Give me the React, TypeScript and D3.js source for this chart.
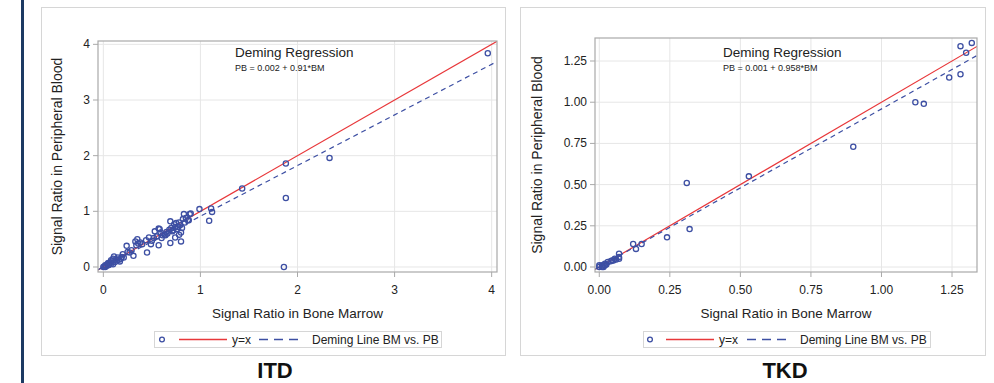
import React from "react";
import * as d3 from "d3";

const itdBM = [0.00,0.01,0.02,0.02,0.03,0.04,0.05,0.05,0.06,0.07,0.08,0.08,0.09,0.10,0.10,0.11,0.12,0.13,0.14,0.15,0.16,0.17,0.18,0.19,0.20,0.21,0.24,0.25,0.27,0.29,0.31,0.33,0.34,0.35,0.36,0.38,0.40,0.44,0.45,0.47,0.49,0.50,0.52,0.53,0.55,0.57,0.57,0.58,0.59,0.60,0.61,0.63,0.64,0.65,0.66,0.68,0.69,0.69,0.70,0.71,0.72,0.73,0.74,0.74,0.75,0.76,0.77,0.78,0.78,0.79,0.80,0.80,0.81,0.82,0.83,0.84,0.85,0.87,0.88,0.89,0.90,0.99,1.09,1.11,1.12,1.43,1.86,1.88,1.88,2.33,3.96];
const itdPB = [0.00,0.01,0.00,0.03,0.02,0.05,0.03,0.07,0.04,0.08,0.06,0.12,0.10,0.05,0.15,0.19,0.09,0.14,0.12,0.17,0.13,0.10,0.15,0.18,0.23,0.17,0.38,0.27,0.26,0.30,0.20,0.46,0.39,0.50,0.42,0.44,0.41,0.48,0.26,0.53,0.41,0.47,0.52,0.64,0.55,0.39,0.69,0.68,0.62,0.52,0.57,0.58,0.57,0.63,0.60,0.67,0.43,0.82,0.70,0.64,0.66,0.77,0.53,0.72,0.79,0.68,0.72,0.58,0.80,0.75,0.46,0.62,0.70,0.86,0.95,0.80,0.88,0.84,0.84,0.95,0.96,1.04,0.83,1.05,0.99,1.41,0.00,1.86,1.24,1.96,3.84];

const tkdBM = [0.000,0.000,0.010,0.010,0.012,0.015,0.020,0.020,0.025,0.030,0.040,0.045,0.050,0.055,0.060,0.070,0.070,0.070,0.120,0.130,0.150,0.240,0.310,0.320,0.530,0.900,1.120,1.150,1.240,1.280,1.280,1.300,1.320];
const tkdPB = [0.000,0.010,0.000,0.010,0.005,0.000,0.010,0.020,0.015,0.030,0.035,0.040,0.040,0.050,0.045,0.050,0.060,0.080,0.140,0.110,0.140,0.180,0.510,0.230,0.550,0.730,1.000,0.990,1.150,1.170,1.340,1.300,1.360];

const itdXTicks = [0, 1, 2, 3, 4];
const itdYTicks = [0, 1, 2, 3, 4];
const tkdXTicks = [0, 0.25, 0.5, 0.75, 1.0, 1.25];
const tkdYTicks = [0, 0.25, 0.5, 0.75, 1.0, 1.25];

const itdIntercept = 0.002, itdSlope = 0.91;
const tkdIntercept = 0.001, tkdSlope = 0.958;

const FONT = "'Liberation Sans', Arial, sans-serif";
const RED = "#e8373a";
const BLUE = "#3d4fa3";

type PanelProps = {
  id: string;
  box: [number, number, number, number];
  frame: [number, number, number, number];
  xDomain: [number, number];
  yDomain: [number, number];
  bm: number[];
  pb: number[];
  xTicks: number[];
  yTicks: number[];
  fmt: (v: number) => string;
  intercept: number;
  slope: number;
  eqText: string;
  eqX: number;
  yTitleX: number;
  legend: { x0: number; x1: number; marker: number; r0: number; r1: number; t1: number; b0: number; b1: number; t2: number };
  title: string;
  titleX: number;
};

function Panel(p: PanelProps) {
  const [fl, ft, fr, fb] = p.frame;
  const x = d3.scaleLinear().domain(p.xDomain).range([fl, fr]);
  const y = d3.scaleLinear().domain(p.yDomain).range([fb, ft]);
  const xs = [p.xDomain[0], p.xDomain[1]];
  const idLine = d3.line<number>().x((v) => x(v)).y((v) => y(v))(xs) as string;
  const demLine = d3.line<number>().x((v) => x(v)).y((v) => y(p.intercept + p.slope * v))(xs) as string;
  const [bx0, by0, bx1, by1] = p.box;
  const lg = p.legend;
  const cx = (fl + fr) / 2;
  return (
    <g>
      <rect x={bx0 + 0.5} y={by0 + 0.5} width={bx1 - bx0} height={by1 - by0} fill="#fff" stroke="#d6d6d6" />
      <defs>
        <clipPath id={p.id}>
          <rect x={fl} y={ft} width={fr - fl} height={fb - ft} />
        </clipPath>
      </defs>
      {p.xTicks.map((t) => (
        <line key={"gx" + t} x1={x(t)} x2={x(t)} y1={ft} y2={fb} stroke="#e6e6e6" />
      ))}
      {p.yTicks.map((t) => (
        <line key={"gy" + t} x1={fl} x2={fr} y1={y(t)} y2={y(t)} stroke="#e6e6e6" />
      ))}
      <g clipPath={`url(#${p.id})`}>
        <path d={idLine} stroke={RED} strokeWidth={1.2} fill="none" />
        <path d={demLine} stroke={BLUE} strokeWidth={1.2} strokeDasharray="5,4" fill="none" />
        {p.bm.map((v, i) => (
          <circle key={i} cx={x(v)} cy={y(p.pb[i])} r={2.6} fill="none" stroke={BLUE} strokeWidth={1.3} />
        ))}
      </g>
      <rect x={fl} y={ft} width={fr - fl} height={fb - ft} fill="none" stroke="#a9a9a9" strokeWidth={1.2} />
      {p.xTicks.map((t) => (
        <g key={"tx" + t}>
          <line x1={x(t)} x2={x(t)} y1={fb} y2={fb + 5} stroke="#a9a9a9" />
          <text x={x(t)} y={294} textAnchor="middle" fontSize={12} fontFamily={FONT} fill="#222">{p.fmt(t)}</text>
        </g>
      ))}
      {p.yTicks.map((t) => (
        <g key={"ty" + t}>
          <line x1={fl - 5} x2={fl} y1={y(t)} y2={y(t)} stroke="#a9a9a9" />
          <text x={fl - 8} y={y(t) + 4} textAnchor="end" fontSize={12} fontFamily={FONT} fill="#222">{p.fmt(t)}</text>
        </g>
      ))}
      <text x={cx} y={318} textAnchor="middle" fontSize={13.5} fontFamily={FONT} fill="#222">Signal Ratio in Bone Marrow</text>
      <text transform={`translate(${p.yTitleX},${(ft + fb) / 2}) rotate(-90)`} textAnchor="middle" fontSize={14} fontFamily={FONT} fill="#222">Signal Ratio in Peripheral Blood</text>
      <text x={p.eqX} y={57} fontSize={13.5} fontFamily={FONT} fill="#222">Deming Regression</text>
      <text x={p.eqX} y={71} fontSize={9} fontFamily={FONT} fill="#222">{p.eqText}</text>
      <rect x={lg.x0 + 0.5} y={331.5} width={lg.x1 - lg.x0} height={16} fill="#fff" stroke="#d6d6d6" />
      <circle cx={lg.marker} cy={339.5} r={2.4} fill="none" stroke={BLUE} strokeWidth={1.3} />
      <line x1={lg.r0} x2={lg.r1} y1={339.5} y2={339.5} stroke={RED} strokeWidth={1.3} />
      <text x={lg.t1} y={343.5} fontSize={12} fontFamily={FONT} fill="#222">y=x</text>
      <line x1={lg.b0} x2={lg.b1} y1={339.5} y2={339.5} stroke={BLUE} strokeWidth={1.3} strokeDasharray="9,6" />
      <text x={lg.t2} y={343.5} fontSize={12} fontFamily={FONT} fill="#222">Deming Line BM vs. PB</text>
      <text x={p.titleX} y={378} textAnchor="middle" fontSize={22} fontWeight="bold" fontFamily={FONT} fill="#111">{p.title}</text>
    </g>
  );
}

export default function App() {
  return (
    <svg width={994} height={383} style={{ position: "absolute", left: 0, top: 0, background: "#fff" }}>
      <rect x={21} y={0} width={3} height={383} fill="#1d3a63" />
      <Panel
        id="c1"
        box={[41, 7, 505, 355]}
        frame={[98, 41, 497, 272]}
        xDomain={[-0.055, 4.055]}
        yDomain={[-0.09, 4.06]}
        bm={itdBM}
        pb={itdPB}
        xTicks={itdXTicks}
        yTicks={itdYTicks}
        fmt={(v) => d3.format("d")(v)}
        intercept={itdIntercept}
        slope={itdSlope}
        eqText={`PB = ${itdIntercept} + ${itdSlope}*BM`}
        eqX={235}
        yTitleX={62}
        legend={{ x0: 154, x1: 441, marker: 162, r0: 179, r1: 227, t1: 232, b0: 259, b1: 303, t2: 312 }}
        title="ITD"
        titleX={275}
      />
      <Panel
        id="c2"
        box={[520, 7, 985, 355]}
        frame={[595, 38, 977, 272]}
        xDomain={[-0.0152, 1.3385]}
        yDomain={[-0.0303, 1.3896]}
        bm={tkdBM}
        pb={tkdPB}
        xTicks={tkdXTicks}
        yTicks={tkdYTicks}
        fmt={(v) => d3.format(".2f")(v)}
        intercept={tkdIntercept}
        slope={tkdSlope}
        eqText={`PB = ${tkdIntercept} + ${tkdSlope}*BM`}
        eqX={723}
        yTitleX={542}
        legend={{ x0: 643, x1: 930, marker: 650, r0: 666, r1: 714, t1: 719, b0: 747, b1: 791, t2: 800 }}
        title="TKD"
        titleX={785}
      />
    </svg>
  );
}
